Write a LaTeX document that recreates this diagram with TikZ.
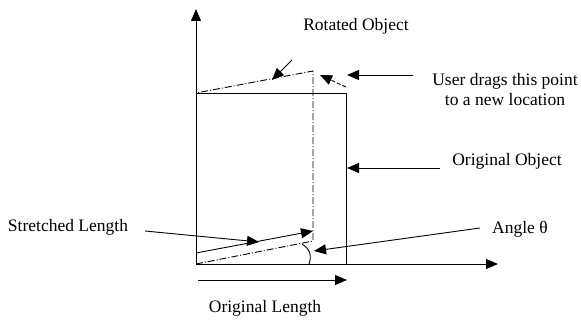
\documentclass[tikz,border=0pt]{standalone}
\usepackage{fontspec}
\setmainfont{Liberation Serif}
\usetikzlibrary{arrows.meta}
\tikzset{
  lbl/.style={inner sep=0pt, font=\fontsize{17.5}{20}\selectfont, align=center},
  arr/.style={line width=0.9pt, -{Triangle[length=12pt,width=10pt]}},
  dashdot/.style={line width=0.9pt, dash pattern=on 7pt off 2pt on 1pt off 2pt},
  solidline/.style={line width=0.9pt}
}
\begin{document}
\begin{tikzpicture}[x=1pt,y=-1pt]
\useasboundingbox (0,0) rectangle (581,320);
% axes
\coordinate (O) at (196,264);
\coordinate (ytip) at (196,9);
\coordinate (xtip) at (498,264);
\draw[arr] (O) -- (ytip);
\draw[arr] (O) -- (xtip);
% original object
\coordinate (rtl) at (196,93);
\coordinate (rtr) at (346,93);
\coordinate (rbr) at (346,264);
\draw[solidline] (rtl) -- (rtr) -- (rbr);
% rotated object
\coordinate (qbr) at (313,241);
\coordinate (qtr) at (313,71);
\draw[dashdot] (O) -- (qbr) -- (qtr) -- (rtl);
% angle arc
\coordinate (arcA) at (309,264);
\coordinate (arcB) at (302,244);
\draw[solidline] (arcA) .. controls (312,256) and (310,249) .. (arcB);
% labels
\node[lbl] (rot) at (356,26) {Rotated Object};
\node[lbl] (user) at (505,90) {User drags this point\\to a new location};
\node[lbl] (orig) at (507,161) {Original Object};
\node[lbl] (ang) at (520,229) {Angle θ};
\node[lbl] (str) at (68,227) {Stretched Length};
\node[lbl] (olen) at (265,308) {Original Length};
% arrows
\coordinate (rotA) at (292,60);
\coordinate (rotB) at (272,80);
\draw[arr] (rotA) -- (rotB);
\coordinate (dragA) at (346,87);
\coordinate (dragB) at (320,75);
\draw[arr, dash pattern=on 4pt off 2pt] (dragA) -- (dragB);
\coordinate (userA) at (413,75);
\coordinate (userB) at (347,75);
\draw[arr] (userA) -- (userB);
\coordinate (origA) at (440,168);
\coordinate (origB) at (347,168);
\draw[arr] (origA) -- (origB);
\coordinate (strA) at (145,231);
\coordinate (strB) at (259,242);
\draw[arr] (strA) -- (strB);
\coordinate (s2A) at (196,253);
\coordinate (s2B) at (313,231);
\draw[arr] (s2A) -- (s2B);
\coordinate (angA) at (480,228);
\coordinate (angB) at (314,251);
\draw[arr] (angA) -- (angB);
\coordinate (olA) at (198,280);
\coordinate (olB) at (347,280);
\draw[arr] (olA) -- (olB);
\end{tikzpicture}
\end{document}
